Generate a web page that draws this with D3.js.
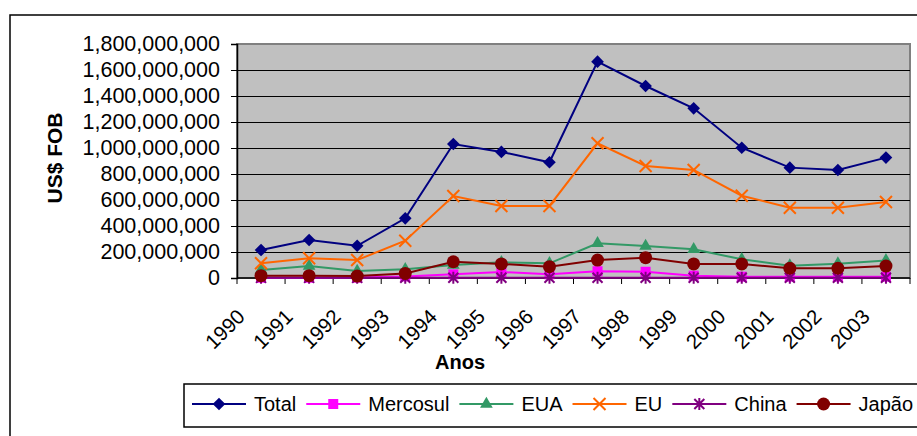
<!DOCTYPE html>
<html>
<head>
<meta charset="utf-8">
<script src="https://cdn.jsdelivr.net/npm/d3@7"></script>
<style>
  body { margin: 0; background: #fff; }
  svg text { font-family: "Liberation Sans", Arial, sans-serif; fill: #000; }
</style>
</head>
<body>
<div id="chart"></div>
<script>
// data
var years = ["1990","1991","1992","1993","1994","1995","1996","1997","1998","1999","2000","2001","2002","2003"];
var total    = [215e6, 292e6, 248e6, 459e6, 1031e6, 970e6, 890e6, 1664e6, 1477e6, 1305e6, 1002e6, 849e6, 831e6, 926e6];
var mercosul = [2e6, 2e6, 3e6, 12e6, 28e6, 46e6, 28e6, 52e6, 48e6, 18e6, 10e6, 10e6, 10e6, 10e6];
var eua      = [62e6, 92e6, 54e6, 67e6, 100e6, 121e6, 113e6, 267e6, 246e6, 221e6, 144e6, 95e6, 110e6, 135e6];
var eu       = [113e6, 152e6, 138e6, 287e6, 631e6, 554e6, 554e6, 1036e6, 862e6, 831e6, 633e6, 541e6, 541e6, 585e6];
var china    = [1e6, 1e6, 1e6, 2e6, 2e6, 2e6, 2e6, 2e6, 2e6, 2e6, 2e6, 2e6, 2e6, 2e6];
var japao    = [18e6, 18e6, 15e6, 35e6, 125e6, 108e6, 87e6, 138e6, 156e6, 108e6, 108e6, 75e6, 75e6, 92e6];
var seriesNames = ["Total", "Mercosul", "EUA", "EU", "China", "Japão"];
var yTicks = [0, 2e8, 4e8, 6e8, 8e8, 1e9, 1.2e9, 1.4e9, 1.6e9, 1.8e9];

var W = 917, H = 436;
var plot = {left: 237, right: 910, top: 44, bottom: 278};

var series = [
  {name: seriesNames[0], values: total,    color: "#000080", marker: "diamond"},
  {name: seriesNames[1], values: mercosul, color: "#FF00FF", marker: "square"},
  {name: seriesNames[2], values: eua,      color: "#339966", marker: "triangle"},
  {name: seriesNames[3], values: eu,       color: "#FF6600", marker: "x"},
  {name: seriesNames[4], values: china,    color: "#800080", marker: "star"},
  {name: seriesNames[5], values: japao,    color: "#800000", marker: "circle"}
];

var svg = d3.select("#chart").append("svg")
    .attr("width", W)
    .attr("height", H);

// chart area border (runs off the right and bottom edges)
svg.append("rect")
    .attr("x", 10).attr("y", 15)
    .attr("width", W + 20).attr("height", H + 20)
    .attr("fill", "#fff")
    .attr("stroke", "#000")
    .attr("stroke-width", 1.5);

var x = d3.scaleBand().domain(years).range([plot.left, plot.right]);
var y = d3.scaleLinear().domain([0, 1.8e9]).range([plot.bottom, plot.top]);

// plot area
svg.append("rect")
    .attr("x", plot.left).attr("y", plot.top)
    .attr("width", plot.right - plot.left).attr("height", plot.bottom - plot.top)
    .attr("fill", "#C0C0C0")
    .attr("stroke", "#808080")
    .attr("stroke-width", 2);

// gridlines
svg.append("g").selectAll("line")
    .data(yTicks.filter(function(d) { return d > 0 && d < 1.8e9; }))
    .enter().append("line")
    .attr("x1", plot.left).attr("x2", plot.right)
    .attr("y1", function(d) { return Math.round(y(d)) + 0.5; })
    .attr("y2", function(d) { return Math.round(y(d)) + 0.5; })
    .attr("stroke", "#000")
    .attr("stroke-width", 1);

// y axis
var yAxis = svg.append("g")
    .attr("transform", "translate(" + plot.left + ",0)")
    .call(d3.axisLeft(y).tickValues(yTicks).tickSize(6).tickPadding(11).tickFormat(d3.format(",")));
yAxis.select(".domain").attr("stroke", "#000").attr("stroke-width", 1.5);
yAxis.selectAll(".tick line").attr("stroke", "#000");
yAxis.selectAll("text")
    .attr("font-size", 21.5)
    .attr("font-family", "\"Liberation Sans\", Arial, sans-serif")
    .attr("fill", "#000");

// x axis line and category ticks
var xAxis = svg.append("g");
xAxis.append("line")
    .attr("x1", plot.left).attr("x2", plot.right)
    .attr("y1", plot.bottom).attr("y2", plot.bottom)
    .attr("stroke", "#000").attr("stroke-width", 1.5);
xAxis.selectAll("line.tk")
    .data(years.concat(["end"]))
    .enter().append("line")
    .attr("class", "tk")
    .attr("x1", function(d) { return d === "end" ? plot.right : x(d); })
    .attr("x2", function(d) { return d === "end" ? plot.right : x(d); })
    .attr("y1", plot.bottom).attr("y2", plot.bottom + 6)
    .attr("stroke", "#000");
xAxis.selectAll("text")
    .data(years)
    .enter().append("text")
    .attr("transform", function(d) {
      return "translate(" + (x(d) + x.bandwidth() / 2 - 15) + "," + (plot.bottom + 40) + ") rotate(-45)";
    })
    .attr("text-anchor", "end")
    .attr("font-size", 20.5)
    .text(function(d) { return d; });

// axis titles
svg.append("text")
    .attr("transform", "translate(62,158) rotate(-90)")
    .attr("text-anchor", "middle")
    .attr("font-size", 21)
    .attr("font-weight", "bold")
    .text("US$ FOB");
svg.append("text")
    .attr("x", 460).attr("y", 369)
    .attr("text-anchor", "middle")
    .attr("font-size", 20)
    .attr("font-weight", "bold")
    .text("Anos");

// markers
function drawMarker(g, type, color) {
  if (type === "diamond") {
    g.append("path").attr("d", d3.symbol(d3.symbolSquare, 80)()).attr("transform", "rotate(45)")
      .attr("fill", color);
  } else if (type === "square") {
    g.append("path").attr("d", d3.symbol(d3.symbolSquare, 100)()).attr("fill", color);
  } else if (type === "triangle") {
    g.append("path").attr("d", d3.symbol(d3.symbolTriangle, 70)()).attr("fill", color);
  } else if (type === "circle") {
    g.append("circle").attr("r", 6.5).attr("fill", color);
  } else if (type === "x") {
    g.append("path").attr("d", "M-6,-6L6,6M-6,6L6,-6")
      .attr("stroke", color).attr("stroke-width", 2).attr("fill", "none");
  } else if (type === "star") {
    g.append("path").attr("d", "M-5,-5L5,5M-5,5L5,-5M0,-6L0,6")
      .attr("stroke", color).attr("stroke-width", 2).attr("fill", "none");
  }
}

var line = d3.line()
    .x(function(d, i) { return x(years[i]) + x.bandwidth() / 2; })
    .y(function(d) { return y(d); });

series.forEach(function(s) {
  var g = svg.append("g");
  g.append("path")
      .attr("d", line(s.values))
      .attr("fill", "none")
      .attr("stroke", s.color)
      .attr("stroke-width", 2);
  s.values.forEach(function(v, i) {
    var m = g.append("g")
        .attr("transform", "translate(" + (x(years[i]) + x.bandwidth() / 2) + "," + y(v) + ")");
    drawMarker(m, s.marker, s.color);
  });
});

// legend
var legend = svg.append("g");
legend.append("rect")
    .attr("x", 184).attr("y", 384)
    .attr("width", 760).attr("height", 43)
    .attr("fill", "#fff")
    .attr("stroke", "#000")
    .attr("stroke-width", 1.5);
var lx = 192;
series.forEach(function(s) {
  var g = legend.append("g");
  g.append("line")
      .attr("x1", lx).attr("x2", lx + 54)
      .attr("y1", 404).attr("y2", 404)
      .attr("stroke", s.color).attr("stroke-width", 2);
  var m = g.append("g").attr("transform", "translate(" + (lx + 27) + ",404)");
  drawMarker(m, s.marker, s.color);
  var t = g.append("text")
      .attr("x", lx + 62).attr("y", 411)
      .attr("font-size", 20)
      .text(s.name);
  lx = lx + 62 + t.node().getComputedTextLength() + 10;
});
</script>
</body>
</html>
